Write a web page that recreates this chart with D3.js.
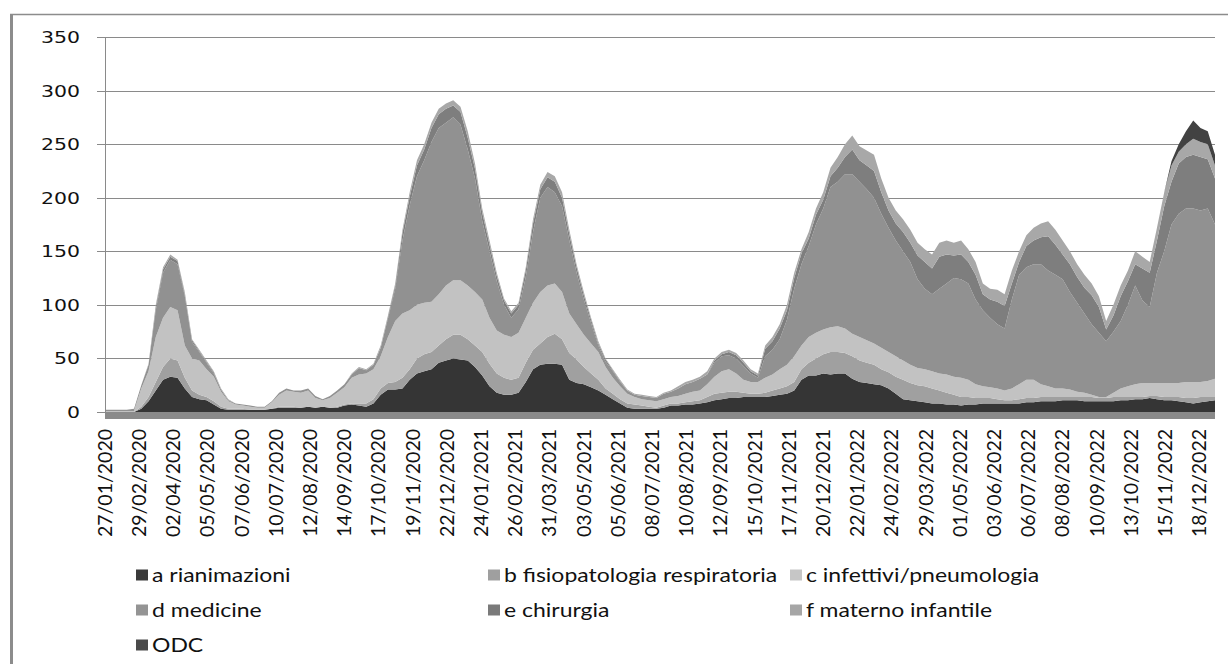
<!DOCTYPE html>
<html>
<head>
<meta charset="utf-8">
<script src="https://cdn.jsdelivr.net/npm/d3@7"></script>
<style>
  body { margin: 0; background: #fff; }
  svg { display: block; }
</style>
</head>
<body>
<div id="chart"></div>
<script>

const width = 1228;
const height = 664;

// weekly readings, first week starting 27/01/2020
const startDate = "27/01/2020";

const seriesNames = ["a rianimazioni", "b fisiopatologia respiratoria", "c infettivi/pneumologia",
    "d medicine", "e chirurgia", "f materno infantile", "ODC"];

const rianimazioni = [
    0,0,0,0,0, 3,10,20,30,33, 32,22,14,12,11, 7,3,2,2,2, 2,2,2,3,4, 4,4,4,5,4,
    5,4,4,6,7, 6,5,8,16,21, 21,22,30,36,38, 40,46,48,50,49, 48,42,34,24,18, 16,16,18,28,40,
    44,45,45,44,30, 27,26,23,20,16, 12,8,4,3,3, 3,3,4,6,6, 7,7,8,9,11, 12,13,13,14,14,
    14,14,15,16,17, 20,30,34,34,36, 35,36,36,31,28, 27,26,25,22,17, 12,11,10,9,8, 8,7,7,6,7,
    7,8,8,8,8, 8,8,9,9,10, 10,10,11,11,11, 10,10,10,10,10, 11,11,12,12,13, 12,11,11,10,9,
    8,9,10,11
];
const fisiopatologia = [
    0,0,0,0,0, 2,4,8,12,17, 16,10,6,4,3, 3,2,1,1,1, 0,0,0,0,1, 1,1,0,0,0,
    0,0,1,1,1, 2,3,4,6,6, 7,10,10,14,16, 16,16,20,22,23, 20,20,22,21,18, 16,14,14,18,18,
    20,25,28,24,25, 22,16,13,10,6, 5,4,4,4,3, 2,1,2,2,2, 2,3,3,5,6, 6,6,6,4,3,
    3,4,5,6,7, 8,10,12,16,18, 21,20,19,21,20, 19,18,15,15,16, 18,16,15,15,14, 12,11,9,8,7,
    6,5,5,4,3, 3,4,4,4,4, 4,4,3,3,3, 4,4,3,3,4, 3,3,2,2,2, 3,3,3,4,4,
    5,5,4,3
];
const infettivi = [
    1,1,1,1,1, 17,24,42,46,48, 47,30,30,32,26, 23,14,7,4,3, 3,2,2,6,11, 15,14,14,15,9,
    6,9,13,16,24, 27,28,28,30,43, 57,60,55,50,48, 47,48,50,51,51, 50,50,49,43,40, 40,40,42,42,44,
    48,48,47,44,37, 33,30,28,26,20, 15,12,9,7,6, 6,6,6,6,7, 8,9,9,12,16, 20,21,17,12,11,
    11,14,15,18,20, 24,22,24,24,23, 23,24,23,21,22, 21,20,20,19,19, 18,17,16,16,16, 16,17,17,18,16,
    13,11,10,10,9, 11,14,17,17,12, 10,8,8,7,5, 4,2,1,1,4, 8,10,12,13,12, 12,13,13,13,15,
    15,14,15,17
];
const medicine = [
    1,1,1,1,2, 3,6,25,42,44, 43,46,15,8,6, 3,2,1,1,1, 1,1,1,1,2, 2,1,2,2,2,
    1,2,2,3,3, 6,3,4,8,17, 30,68,98,120,133, 149,155,152,152,145, 127,106,73,62,46, 28,18,22,38,66,
    88,92,85,80,68, 48,33,19,6,5, 6,4,3,2,3, 3,3,5,5,7, 9,9,11,9,13, 14,13,14,13,8,
    4,20,23,28,42, 63,76,85,101,113, 131,135,144,149,145, 141,136,125,116,108, 102,96,83,75,72, 79,85,92,92,90,
    79,71,65,60,58, 83,102,105,108,112, 108,106,102,91,83, 74,66,60,52,57, 63,76,92,77,71, 103,123,148,158,162,
    162,160,161,144
];
const chirurgia = [
    0,0,0,0,0, 0,0,3,3,3, 3,2,2,1,1, 1,0,0,0,0, 0,0,0,0,0, 0,0,0,0,0,
    0,0,0,0,0, 0,0,0,0,2, 3,7,8,10,10, 13,13,13,11,12, 11,9,8,6,5, 4,4,4,6,8,
    8,9,10,8,6, 5,4,3,2,2, 1,1,0,0,0, 0,0,0,0,0, 0,0,0,0,2, 2,3,3,3,2,
    2,7,8,10,9, 10,10,7,9,8, 10,13,16,23,20, 22,25,20,16,16, 18,18,22,25,24, 30,27,21,23,20,
    23,15,17,21,21, 15,12,20,22,25, 32,28,23,26,24, 24,27,24,11,15, 23,22,20,30,32, 30,42,40,47,48,
    50,50,46,43
];
const maternoInfantile = [
    0,0,0,0,0, 0,1,2,2,2, 1,2,1,1,1, 1,1,1,0,0, 0,0,0,0,0, 0,0,0,0,0,
    0,0,0,0,1, 1,1,1,2,1, 2,3,4,5,5, 5,5,5,5,5, 6,5,4,4,3, 2,2,2,3,4,
    4,5,5,5,4, 3,3,2,2,1, 1,1,1,1,1, 1,1,1,1,2, 2,2,2,3,2, 2,2,2,2,2,
    2,3,4,4,5, 5,4,6,6,7, 8,10,12,13,13, 14,15,13,12,12, 12,12,12,12,13, 13,13,12,13,12,
    12,10,10,11,11, 12,10,10,12,13, 14,14,13,12,12, 12,11,10,8,10, 10,10,12,11,10, 12,13,15,11,12,
    15,14,14,12
];
const odc = [
    0,0,0,0,0, 0,0,0,0,0, 0,0,0,0,0, 0,0,0,0,0, 0,0,0,0,0, 0,0,0,0,0,
    0,0,0,0,0, 0,0,0,0,0, 0,0,0,0,0, 0,0,0,0,0, 0,0,0,0,0, 0,0,0,0,0,
    0,0,0,0,0, 0,0,0,0,0, 0,0,0,0,0, 0,0,0,0,0, 0,0,0,0,0, 0,0,0,0,0,
    0,0,0,0,0, 0,0,0,0,0, 0,0,0,0,0, 0,0,0,0,0, 0,0,0,0,0, 0,0,0,0,0,
    0,0,0,0,0, 0,0,0,0,0, 0,0,0,0,0, 0,0,0,0,0, 0,0,0,0,0, 0,0,4,7,12,
    17,13,12,10
];

const tickLabels = ["27/01/2020","29/02/2020","02/04/2020","05/05/2020","07/06/2020","10/07/2020",
    "12/08/2020","14/09/2020","17/10/2020","19/11/2020","22/12/2020","24/01/2021","26/02/2021",
    "31/03/2021","03/05/2021","05/06/2021","08/07/2021","10/08/2021","12/09/2021","15/10/2021",
    "17/11/2021","20/12/2021","22/01/2022","24/02/2022","29/03/2022","01/05/2022","03/06/2022",
    "06/07/2022","08/08/2022","10/09/2022","13/10/2022","15/11/2022","18/12/2022"];

const yTicks = [0, 50, 100, 150, 200, 250, 300, 350];

const colors = ["#353535", "#a0a0a0", "#c2c2c2", "#919191", "#7e7e7e", "#a8a8a8", "#424242"];
const legendColors = ["#3a3a3a", "#9f9f9f", "#c6c6c6", "#949494", "#7a7a7a", "#a6a6a6", "#4a4a4a"];

const margin = { left: 105, right: 13, top: 37, bottom: 252 };

const parse = d3.utcParse("%d/%m/%Y");
const t0 = parse(startDate);

const allSeries = [rianimazioni, fisiopatologia, infettivi, medicine, chirurgia, maternoInfantile, odc];

let data = rianimazioni.map((v, i) => {
    let row = { date: d3.utcDay.offset(t0, 7 * i) };
    seriesNames.forEach((k, j) => row[k] = allSeries[j][i]);
    return row;
});

let svg = d3.select("#chart")
    .append("svg")
    .attr("width", width)
    .attr("height", height);

// outer frame
svg.append("line")
    .attr("x1", 10).attr("x2", width)
    .attr("y1", 14.5).attr("y2", 14.5)
    .attr("stroke", "#8c8c8c").attr("stroke-width", 1.5);
svg.append("line")
    .attr("x1", 11.5).attr("x2", 11.5)
    .attr("y1", 14).attr("y2", height)
    .attr("stroke", "#8c8c8c").attr("stroke-width", 3);

let x = d3.scaleUtc()
    .domain(d3.extent(data, d => d.date))
    .range([margin.left, width - margin.right]);

let y = d3.scaleLinear()
    .domain([0, 350])
    .range([412, margin.top]);

// gridlines + labels
svg.selectAll(".grid")
    .data(yTicks)
    .join("line")
    .attr("class", "grid")
    .attr("x1", 97).attr("x2", width - margin.right)
    .attr("y1", d => Math.round(y(d)) + 0.5)
    .attr("y2", d => Math.round(y(d)) + 0.5)
    .attr("stroke", "#8a8a8a")
    .attr("stroke-width", 1);

// the source picture is stretched sideways, so labels get a horizontal scale
svg.selectAll(".ylab")
    .data(yTicks)
    .join("text")
    .attr("class", "ylab")
    .attr("transform", d => `translate(80,${y(d)}) scale(1.24,1)`)
    .attr("dy", "0.36em")
    .attr("text-anchor", "end")
    .style("font-family", "'DejaVu Sans', Verdana, sans-serif")
    .style("font-size", "16.5px")
    .style("fill", "#111")
    .text(d => d);

let stack = d3.stack().keys(seriesNames);
let layers = stack(data);

let area = d3.area()
    .x(d => x(d.data.date))
    .y0(d => y(d[0]))
    .y1(d => y(d[1]));

svg.selectAll(".layer")
    .data(layers)
    .join("path")
    .attr("class", "layer")
    .attr("fill", (d, i) => colors[i])
    .attr("d", area);

// y axis line
svg.append("line")
    .attr("x1", margin.left + 0.5).attr("x2", margin.left + 0.5)
    .attr("y1", margin.top).attr("y2", 412)
    .attr("stroke", "#8a8a8a");

// thick category axis
svg.append("rect")
    .attr("x", margin.left)
    .attr("y", 412)
    .attr("width", width - margin.right - margin.left)
    .attr("height", 7)
    .attr("fill", "#8a8a8a");

// rotated date labels
svg.selectAll(".xlab")
    .data(tickLabels)
    .join("text")
    .attr("class", "xlab")
    .attr("transform", d => `translate(${x(parse(d))},429) rotate(-90)`)
    .attr("dy", "0.35em")
    .attr("text-anchor", "end")
    .style("font-family", "Lato, sans-serif")
    .style("font-size", "19.5px")
    .style("fill", "#111")
    .text(d => d);

// legend
const legendCols = [136, 488, 790];
const legendRows = [575, 610, 645];

let legend = svg.selectAll(".legend")
    .data(seriesNames)
    .join("g")
    .attr("class", "legend")
    .attr("transform", (d, i) => `translate(${legendCols[i % 3]},${legendRows[Math.floor(i / 3)]})`);

legend.append("rect")
    .attr("x", 0).attr("y", -5.5)
    .attr("width", 12).attr("height", 11)
    .attr("fill", (d, i) => legendColors[i]);

legend.append("text")
    .attr("transform", "translate(16,0) scale(1.21,1)")
    .attr("dy", "0.35em")
    .style("font-family", "Lato, sans-serif")
    .style("font-size", "19px")
    .style("fill", "#111")
    .text(d => d);

</script>
</body>
</html>
